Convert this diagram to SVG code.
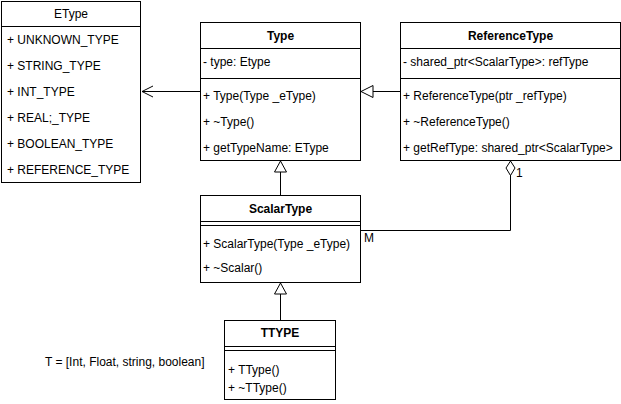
<svg xmlns="http://www.w3.org/2000/svg" width="621" height="404" viewBox="0 0 621 404">
<style>
.box{fill:#fff;stroke:#000;stroke-width:1}
.ln{stroke:#000;stroke-width:1;fill:none}
text{font-family:"Liberation Sans",Arial,sans-serif;font-size:12px;fill:#000;dominant-baseline:central}
.t{font-weight:bold;text-anchor:middle}
.c{text-anchor:middle}
</style>
<defs>
<marker id="open" markerWidth="14" markerHeight="14" refX="12" refY="6" orient="auto" markerUnits="userSpaceOnUse">
<path d="M1,0.5 L12,6 L1,11.5" fill="none" stroke="#000"/>
</marker>
</defs>
<rect width="621" height="404" fill="#fff"/>
<g id="EType">
<rect class="box" x="1.5" y="1.5" width="139" height="181"/>
<line class="ln" x1="1.5" y1="26.5" x2="140.5" y2="26.5"/>
<text class="c" x="71" y="14">EType</text>
<text x="7" y="40">+ UNKNOWN_TYPE</text>
<text x="7" y="66">+ STRING_TYPE</text>
<text x="7" y="92">+ INT_TYPE</text>
<text x="7" y="118">+ REAL;_TYPE</text>
<text x="7" y="144">+ BOOLEAN_TYPE</text>
<text x="7" y="170">+ REFERENCE_TYPE</text>
</g>
<g id="Type">
<rect class="box" x="200.5" y="22.5" width="160" height="138"/>
<line class="ln" x1="200.5" y1="48.5" x2="360.5" y2="48.5"/>
<line class="ln" x1="200.5" y1="78.5" x2="360.5" y2="78.5"/>
<text class="t" x="280.5" y="36">Type</text>
<text x="203" y="62">- type: Etype</text>
<text x="203" y="96">+ Type(Type _eType)</text>
<text x="203" y="122">+ ~Type()</text>
<text x="203" y="148">+ getTypeName: EType</text>
</g>
<g id="ReferenceType">
<rect class="box" x="400.5" y="22.5" width="220" height="138"/>
<line class="ln" x1="400.5" y1="48.5" x2="620.5" y2="48.5"/>
<line class="ln" x1="400.5" y1="78.5" x2="620.5" y2="78.5"/>
<text class="t" x="510.5" y="36">ReferenceType</text>
<text x="403" y="62">- shared_ptr&lt;ScalarType&gt;: refType</text>
<text x="403" y="96">+ ReferenceType(ptr _refType)</text>
<text x="403" y="122">+ ~ReferenceType()</text>
<text x="403" y="148">+ getRefType: shared_ptr&lt;ScalarType&gt;</text>
</g>
<g id="ScalarType">
<rect class="box" x="200.5" y="195.5" width="160" height="87"/>
<line class="ln" x1="200.5" y1="221.5" x2="360.5" y2="221.5"/>
<line class="ln" x1="200.5" y1="225.5" x2="360.5" y2="225.5"/>
<text class="t" x="280.5" y="209">ScalarType</text>
<text x="203" y="244">+ ScalarType(Type _eType)</text>
<text x="203" y="268">+ ~Scalar()</text>
</g>
<g id="TTYPE">
<rect class="box" x="224.5" y="320.5" width="111" height="79"/>
<line class="ln" x1="224.5" y1="346.5" x2="335.5" y2="346.5"/>
<line class="ln" x1="224.5" y1="350.5" x2="335.5" y2="350.5"/>
<text class="t" x="280" y="333">TTYPE</text>
<text x="228" y="370">+ TType()</text>
<text x="228" y="388">+ ~TType()</text>
</g>
<g id="note">
<text x="45" y="362">T = [Int, Float, string, boolean]</text>
</g>
<g id="connectors">
<line class="ln" x1="200" y1="91.5" x2="142" y2="91.5" marker-end="url(#open)"/>
<line class="ln" x1="400" y1="91.5" x2="373" y2="91.5"/>
<path d="M361,91.5 L373,85.5 L373,97.5 Z" class="box"/>
<line class="ln" x1="280.5" y1="195" x2="280.5" y2="172"/>
<path d="M280.5,161 L274.5,172 L286.5,172 Z" class="box"/>
<line class="ln" x1="280.5" y1="320" x2="280.5" y2="294"/>
<path d="M280.5,283 L274.5,294 L286.5,294 Z" class="box"/>
<path d="M361,230.5 H510.5 V175" class="ln"/>
<path d="M510.5,161 L515,168 L510.5,175.5 L506,168 Z" class="box"/>
<text x="516" y="173">1</text>
<text x="364" y="238">M</text>
</g>
</svg>
